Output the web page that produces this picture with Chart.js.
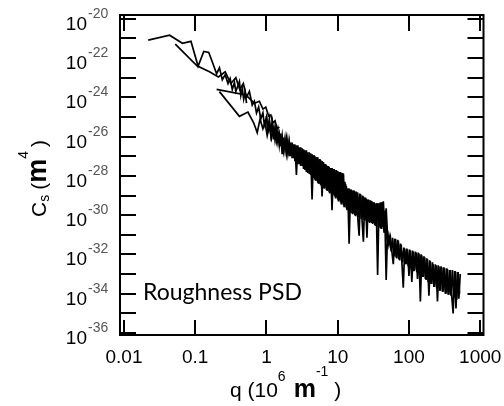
<!DOCTYPE html>
<html lang="en">
<head>
<meta charset="UTF-8">
<title>Roughness PSD</title>
<script src="https://cdn.jsdelivr.net/npm/chart.js@4.4.1/dist/chart.umd.min.js"></script>
<style>
  html, body { margin: 0; padding: 0; background: #fff; }
  #wrap { width: 504px; height: 406px; }
</style>
</head>
<body>
<div id="wrap"><canvas id="psd" width="504" height="406"></canvas></div>
<script>
// values are log10(q / 1e6 m^-1) and log10(Cs / m^4)
const scanA_logQ = [-1.66,-1.36,-1.18,-1.06,-0.96,-0.88,-0.81,-0.76,-0.70,-0.66,-0.62,-0.58,-0.54,-0.51,-0.48,-0.45,-0.43,-0.40,-0.38,-0.36,-0.34,-0.32,-0.30,-0.28];
const scanA_logC = [-21.09,-20.84,-21.25,-21.15,-22.42,-21.67,-21.72,-22.2,-22.8,-22.5,-23.1,-22.85,-23.3,-23.05,-23.6,-23.25,-23.7,-23.4,-23.2,-23.9,-23.55,-24.1,-23.75,-24.3];

const scanB_logQ = [-1.28,-0.975,-0.80,-0.675,-0.58,-0.50,-0.43,-0.375,-0.325,-0.28,-0.24,-0.20,-0.17,-0.14,-0.11,-0.08,-0.05,-0.03,0.00,0.02,0.04,0.06,0.08,0.10];
const scanB_logC = [-21.29,-22.40,-22.7,-22.96,-22.7,-23.3,-23.0,-23.6,-23.3,-24.0,-23.7,-24.4,-24.2,-24.8,-24.5,-25.1,-24.8,-25.4,-25.0,-25.6,-25.2,-25.7,-25.3,-25.8];

const scanC_logQ = [-0.66,-0.38,-0.26,-0.18,-0.13,-0.09,-0.05,-0.02,0.01,0.04,0.07,0.10,0.12,0.14,0.16,0.18,0.20];
const scanC_logC = [-23.71,-24.97,-24.75,-25.3,-25.8,-25.1,-25.6,-25.3,-25.95,-25.45,-26.1,-25.6,-26.2,-25.75,-26.3,-25.85,-26.35];

const scanF_logQ = [-0.70,-0.29,-0.17,-0.10,-0.05,-0.01,0.03,0.06,0.09,0.12,0.15,0.18];
const scanF_logC = [-23.6,-23.88,-24.3,-24.2,-24.6,-24.5,-24.95,-24.9,-25.3,-25.2,-25.6,-25.5];

const scanD_logQ = [0.00,0.02,0.04,0.06,0.08,0.10,0.12,0.14,0.16,0.18,0.20,0.22,0.24,0.26,0.28,0.30,0.32,0.34,0.36,0.38,
  0.40,0.42,0.44,0.46,0.48,0.50,0.52,0.54,0.56,0.58,0.60,0.62,0.64,0.66,0.68,0.70,0.72,0.74,0.76,0.78,
  0.80,0.82,0.84,0.86,0.88,0.90,0.92,0.94,0.96,0.98,1.00,1.02,1.04,1.06,1.08,1.10,1.12,1.14,1.16,1.18,
  1.20,1.22,1.24,1.26,1.28,1.30,1.32,1.34,1.36,1.38,1.40,1.42,1.44,1.46,1.48,1.50,1.52,1.54,1.56,1.58,
  1.60,1.62,1.64,1.66,1.68,1.70];
const scanD_logC = [-24.95,-25.8,-25.15,-25.9,-25.3,-26.15,-25.5,-26.2,-25.7,-26.45,-25.85,-26.9,-26.05,-26.7,-26.1,-26.85,-26.25,-27.0,-26.3,-27.1,
  -26.4,-27.95,-26.45,-27.4,-26.55,-27.5,-26.65,-27.7,-26.7,-27.85,-26.8,-27.95,-26.9,-28.1,-27.0,-28.25,-27.05,-28.4,-27.2,-29.05,
  -27.3,-28.6,-27.45,-28.75,-27.55,-28.85,-27.6,-28.95,-27.7,-29.1,-27.75,-29.25,-27.8,-29.4,-27.9,-29.55,-28.5,-29.7,-28.65,-29.85,
  -28.75,-29.9,-28.8,-30.0,-28.85,-30.05,-28.95,-30.15,-29.05,-30.2,-29.15,-30.3,-29.25,-30.35,-29.3,-30.4,-29.4,-30.5,-29.4,-30.55,
  -29.35,-30.6,-29.3,-30.7,-29.65,-31.1];

const scanE_logQ = [0.20,0.22,0.24,0.26,0.28,0.30,0.32,0.34,0.36,0.38,0.40,0.42,0.44,0.46,0.48,0.50,0.52,0.54,0.56,0.58,
  0.60,0.62,0.64,0.66,0.68,0.70,0.72,0.74,0.76,0.78,0.80,0.82,0.84,0.86,0.88,0.90,0.92,0.94,0.96,0.98,
  1.00,1.02,1.04,1.06,1.08,1.10,1.12,1.14,1.16,1.18,1.20,1.22,1.24,1.26,1.28,1.30,1.32,1.34,1.36,1.38,
  1.40,1.42,1.44,1.46,1.48,1.50,1.52,1.54,1.56,1.58,1.60,1.62,1.64,1.66,1.68,1.70,1.72,1.74,1.76,1.78,
  1.80,1.82,1.84,1.86,1.88,1.90,1.92,1.94,1.96,1.98,2.00,2.02,2.04,2.06,2.08,2.10,2.12,2.14,2.16,2.18,
  2.20,2.22,2.24,2.26,2.28,2.30,2.32,2.34,2.36,2.38,2.40,2.42,2.44,2.46,2.48,2.50,2.52,2.54,2.56,2.58,
  2.60,2.62,2.64,2.66,2.68,2.70,2.72];
const scanE_logC = [-26.5,-25.95,-26.7,-26.1,-26.85,-26.2,-27.0,-26.3,-27.1,-26.4,-27.25,-26.45,-27.4,-26.55,-27.5,-26.6,-27.65,-26.7,-27.8,-26.8,
  -27.9,-26.85,-29.2,-26.95,-28.2,-27.05,-28.35,-27.15,-28.45,-27.25,-28.6,-27.4,-28.7,-27.5,-28.85,-27.6,-29.75,-27.65,-29.05,-27.7,
  -29.2,-27.8,-29.35,-27.85,-29.5,-28.3,-29.65,-28.65,-31.45,-28.7,-29.9,-28.75,-30.0,-28.8,-30.05,-31.05,-28.95,-30.15,-31.35,-29.1,
  -30.3,-29.2,-30.35,-29.25,-30.4,-29.35,-30.5,-29.4,-33.05,-29.4,-30.65,-29.35,-30.7,-29.8,-33.3,-30.8,-31.5,-31.15,-31.85,-32.5,
  -31.2,-32.15,-31.25,-32.25,-31.45,-32.35,-33.7,-31.7,-32.5,-31.75,-33.1,-31.8,-33.4,-31.85,-32.8,-31.9,-33.25,-31.95,-34.4,-32.05,
  -33.15,-32.15,-33.3,-32.25,-34.1,-32.35,-33.5,-32.5,-33.65,-32.55,-34.4,-32.6,-33.85,-32.65,-33.9,-32.7,-34.0,-32.75,-34.05,-32.8,
  -34.1,-35.0,-32.85,-34.75,-32.9,-34.25,-33.0];

const scanG_logQ = [0.61,0.63,0.65,0.67,0.69,0.71,0.73,0.75,0.77,0.79,0.81,0.83,0.85,0.87,0.89,0.91,0.93,0.95,0.97,0.99,
  1.01,1.03,1.05,1.07,1.09,1.11,1.13,1.15,1.17,1.19,1.21,1.23,1.25,1.27,1.29,1.31,1.33,1.35,1.37,1.39,
  1.41,1.43,1.45,1.47,1.49,1.51,1.53,1.55,1.57,1.59,1.61,1.63,1.65,1.67,1.69,1.71,1.73,1.75,1.77,1.79,
  1.81,1.83,1.85,1.87,1.89,1.91,1.93,1.95,1.97,1.99,2.01,2.03,2.05,2.07,2.09,2.11,2.13,2.15,2.17,2.19,
  2.21,2.23,2.25,2.27,2.29,2.31,2.33,2.35,2.37,2.39,2.41,2.43,2.45,2.47,2.49,2.51,2.53,2.55,2.57,2.59,
  2.61,2.63,2.65,2.67,2.69,2.71];
const scanG_logC = [-27.9,-26.9,-28.1,-26.95,-28.25,-27.05,-28.4,-27.15,-28.5,-27.3,-28.65,-27.4,-28.75,-27.5,-28.9,-27.6,-29.0,-27.65,-29.15,-27.75,
  -29.3,-27.8,-29.45,-27.85,-29.6,-28.4,-29.75,-28.65,-29.9,-28.7,-29.95,-28.75,-30.05,-28.85,-30.1,-28.9,-30.2,-29.0,-30.25,-29.1,
  -31.15,-29.2,-30.4,-29.3,-30.45,-29.35,-30.55,-29.4,-30.6,-29.4,-30.7,-29.35,-30.9,-29.75,-31.2,-31.45,-31.1,-31.85,-31.15,-32.1,
  -31.2,-32.2,-31.3,-32.3,-31.5,-32.4,-31.65,-32.5,-31.7,-32.6,-31.75,-32.7,-31.8,-32.85,-31.85,-32.9,-31.9,-33.0,-32.0,-33.15,
  -32.1,-33.25,-32.2,-33.4,-32.3,-33.5,-32.4,-33.65,-32.5,-33.75,-32.55,-33.85,-32.6,-33.9,-32.65,-34.0,-32.7,-34.05,-32.8,-34.1,
  -32.8,-34.2,-32.85,-34.3,-32.9,-34.0];

const xTickValues = [0.01, 0.1, 1, 10, 100, 1000];
const xTickLabels = ['0.01', '0.1', '1', '10', '100', '1000'];
const yTickExps = [-20,-21,-22,-23,-24,-25,-26,-27,-28,-29,-30,-31,-32,-33,-34,-35,-36];
const yLabelExps = [-20,-22,-24,-26,-28,-30,-32,-34,-36];

function toPoints(lq, lc) {
  return lq.map((v, i) => ({ x: Math.pow(10, v), y: Math.pow(10, lc[i]) }));
}

const scans = [
  [scanA_logQ, scanA_logC], [scanB_logQ, scanB_logC], [scanC_logQ, scanC_logC],
  [scanF_logQ, scanF_logC], [scanD_logQ, scanD_logC], [scanE_logQ, scanE_logC],
  [scanG_logQ, scanG_logC]
];

const AXIS_FONT = '"Liberation Sans", Arial, sans-serif';

// frame, inward ticks and all the text
const decorations = {
  id: 'decorations',
  afterDatasetsDraw(chart) {
    const { ctx, chartArea: a, scales } = chart;
    const x = scales.x, y = scales.y;
    ctx.save();
    ctx.strokeStyle = '#000';
    ctx.lineWidth = 2;
    ctx.strokeRect(a.left, a.top, a.right - a.left, a.bottom - a.top);

    ctx.beginPath();
    yTickExps.forEach(e => {
      const py = Math.round(y.getPixelForValue(Math.pow(10, e)));
      ctx.moveTo(a.left, py); ctx.lineTo(a.left + 16, py);
      ctx.moveTo(a.right - 16, py); ctx.lineTo(a.right, py);
    });
    xTickValues.forEach(v => {
      const px = Math.round(x.getPixelForValue(v));
      ctx.moveTo(px, a.bottom); ctx.lineTo(px, a.bottom - 15);
      ctx.moveTo(px, a.top); ctx.lineTo(px, a.top + 16);
    });
    ctx.stroke();

    // y tick labels 10^n
    yLabelExps.forEach(e => {
      const py = y.getPixelForValue(Math.pow(10, e));
      ctx.fillStyle = '#000';
      ctx.font = '19px ' + AXIS_FONT;
      ctx.textAlign = 'right';
      ctx.textBaseline = 'alphabetic';
      ctx.fillText('10', 87, py + 11);
      ctx.fillStyle = '#555';
      ctx.font = '14px ' + AXIS_FONT;
      ctx.textAlign = 'left';
      ctx.fillText(String(e), 88, py - 1);
    });

    // x tick labels
    ctx.fillStyle = '#000';
    ctx.font = '19px ' + AXIS_FONT;
    ctx.textAlign = 'center';
    xTickValues.forEach((v, i) => {
      ctx.fillText(xTickLabels[i], x.getPixelForValue(v), 363);
    });

    // x title: q (10^6 m^-1)
    ctx.textAlign = 'left';
    let cx = 230;
    const piece = (txt, font, dy, gap) => {
      ctx.font = font;
      ctx.fillText(txt, cx, 397 + dy);
      cx += ctx.measureText(txt).width + (gap || 0);
    };
    piece('q (10', '21px ' + AXIS_FONT, 0);
    piece('6', '14px ' + AXIS_FONT, -16, 8);
    piece('m', 'bold 25px ' + AXIS_FONT, 0);
    piece('-1', '14px ' + AXIS_FONT, -21, 6);
    piece(')', '21px ' + AXIS_FONT, 0);

    // y title: Cs (m^4), rotated
    ctx.save();
    ctx.translate(46, 217);
    ctx.rotate(-Math.PI / 2);
    cx = 0;
    const rpiece = (txt, font, dy, gap) => {
      ctx.font = font;
      ctx.fillText(txt, cx, dy);
      cx += ctx.measureText(txt).width + (gap || 0);
    };
    rpiece('C', '21px ' + AXIS_FONT, 0);
    rpiece('s', '14px ' + AXIS_FONT, 3, 5);
    rpiece('(', '21px ' + AXIS_FONT, 0);
    rpiece('m', 'bold 27px ' + AXIS_FONT, 0);
    rpiece('4', '14px ' + AXIS_FONT, -18, 4);
    rpiece(')', '21px ' + AXIS_FONT, 0);
    ctx.restore();

    // in-plot annotation
    ctx.font = '23px Lato, "Open Sans", sans-serif';
    ctx.fillStyle = '#000';
    ctx.fillText('Roughness PSD', 143, 300);
    ctx.restore();
  }
};

new Chart(document.getElementById('psd'), {
  type: 'line',
  data: {
    datasets: scans.map(s => ({
      data: toPoints(s[0], s[1]),
      borderColor: '#000',
      borderWidth: 1.7,
      pointRadius: 0,
      tension: 0,
      fill: false
    }))
  },
  options: {
    responsive: false,
    animation: false,
    layout: { padding: { left: 120, right: 20.5, top: 15, bottom: 71 } },
    plugins: { legend: { display: false }, tooltip: { enabled: false } },
    scales: {
      x: { type: 'logarithmic', min: 0.00879, max: 1112, display: false },
      y: { type: 'logarithmic', min: 7.9e-37, max: 1.55e-20, display: false }
    }
  },
  plugins: [decorations]
});
</script>
</body>
</html>
